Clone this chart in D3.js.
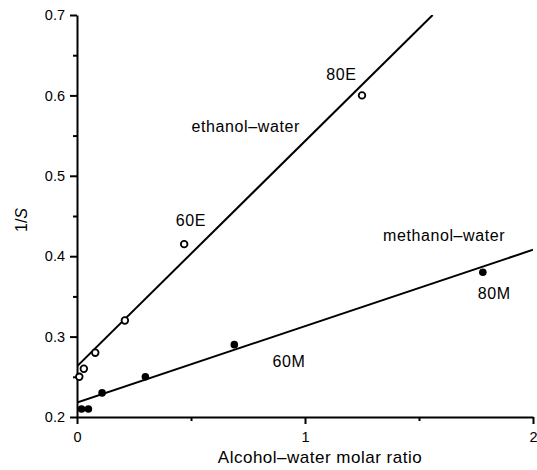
<!DOCTYPE html>
<html>
<head>
<meta charset="utf-8">
<script src="https://cdn.jsdelivr.net/npm/d3@7"></script>
<style>
  body { margin: 0; background: #fff; }
  svg { font-family: "Liberation Sans", Arial, sans-serif; }
  .axis path, .axis line { stroke: #000; stroke-width: 2; }
  .axis text { font-size: 14.5px; fill: #000; }
</style>
</head>
<body>
<div id="chart"></div>
<script>
// ethanol-water (open circles)
const ethanolX = [0.01, 0.03, 0.08, 0.21, 0.47, 1.25];
const ethanolY = [0.25, 0.26, 0.28, 0.32, 0.415, 0.60];
// methanol-water (filled)
const methanolX = [0.02, 0.05, 0.11, 0.30, 0.69, 1.78];
const methanolY = [0.21, 0.21, 0.23, 0.25, 0.29, 0.38];
// fitted lines, end points
const ethanolFit = [[0, 0.263], [1.56, 0.70]];
const methanolFit = [[0, 0.218], [2, 0.408]];

const xTicks = [0, 1, 2];
const xMinor = [0.5, 1.5];
const yTicks = [0.2, 0.3, 0.4, 0.5, 0.6, 0.7];
const yMinor = [0.25, 0.35, 0.45, 0.55, 0.65];

const labels = [
  {text: "ethanol\u2013water", x: 0.74, y: 0.56},
  {text: "80E", x: 1.16, y: 0.625},
  {text: "60E", x: 0.50, y: 0.443},
  {text: "methanol\u2013water", x: 1.61, y: 0.424},
  {text: "80M", x: 1.83, y: 0.352},
  {text: "60M", x: 0.93, y: 0.267}
];

const W = 537, H = 470;
const margin = {top: 15, left: 77, right: 4, bottom: 53};
const width = W - margin.left - margin.right,
    height = H - margin.top - margin.bottom;

const svg = d3.select("#chart")
    .append("svg")
    .attr("width", W)
    .attr("height", H);

const gr = svg.append("g")
    .attr("transform", "translate(" + margin.left + "," + margin.top + ")");

const xScale = d3.scaleLinear().domain([0, 2]).range([0, width]);
const yScale = d3.scaleLinear().domain([0.2, 0.7]).range([height, 0]);

// minor ticks first
gr.append("g")
    .attr("class", "axis")
    .attr("transform", "translate(0," + height + ")")
    .call(d3.axisBottom(xScale).tickValues(xMinor).tickSize(4).tickFormat(""))
    .select(".domain").remove();
gr.append("g")
    .attr("class", "axis")
    .call(d3.axisLeft(yScale).tickValues(yMinor).tickSize(4).tickFormat(""))
    .select(".domain").remove();

gr.append("g")
    .attr("class", "axis")
    .attr("transform", "translate(0," + height + ")")
    .call(d3.axisBottom(xScale).tickValues(xTicks).tickSize(7).tickSizeOuter(0)
        .tickPadding(8).tickFormat(d3.format("d")));

gr.append("g")
    .attr("class", "axis")
    .call(d3.axisLeft(yScale).tickValues(yTicks).tickSize(7).tickSizeOuter(0)
        .tickPadding(5).tickFormat(d3.format(".1f")));

gr.append("clipPath")
    .attr("id", "clip")
    .append("rect")
    .attr("width", width)
    .attr("height", height);

const line = d3.line()
    .x(d => xScale(d[0]))
    .y(d => yScale(d[1]));

gr.selectAll(".fit")
    .data([ethanolFit, methanolFit])
    .join("path")
    .attr("class", "fit")
    .attr("d", line)
    .attr("fill", "none")
    .attr("stroke", "#000")
    .attr("stroke-width", 2)
    .attr("clip-path", "url(#clip)");

gr.selectAll(".eth")
    .data(ethanolX)
    .join("circle")
    .attr("class", "eth")
    .attr("cx", d => xScale(d))
    .attr("cy", (d, i) => yScale(ethanolY[i]))
    .attr("r", 3.3)
    .attr("fill", "#fff")
    .attr("stroke", "#000")
    .attr("stroke-width", 1.8);

gr.selectAll(".meth")
    .data(methanolX)
    .join("circle")
    .attr("class", "meth")
    .attr("cx", d => xScale(d))
    .attr("cy", (d, i) => yScale(methanolY[i]))
    .attr("r", 3.8)
    .attr("fill", "#000");

gr.selectAll(".lbl")
    .data(labels)
    .join("text")
    .attr("class", "lbl")
    .attr("x", d => xScale(d.x))
    .attr("y", d => yScale(d.y))
    .attr("text-anchor", "middle")
    .attr("dominant-baseline", "middle")
    .attr("font-size", 16)
    .attr("letter-spacing", 0.6)
    .text(d => d.text);

svg.append("text")
    .attr("x", 320)
    .attr("y", H - 7)
    .attr("text-anchor", "middle")
    .attr("font-size", 17)
    .attr("letter-spacing", 0.5)
    .text("Alcohol\u2013water molar ratio");

const yl = svg.append("text")
    .attr("transform", "translate(27,220) rotate(-90)")
    .attr("text-anchor", "middle")
    .attr("font-size", 16);
yl.append("tspan").text("1/");
yl.append("tspan").attr("font-style", "italic").text("S");
</script>
</body>
</html>
